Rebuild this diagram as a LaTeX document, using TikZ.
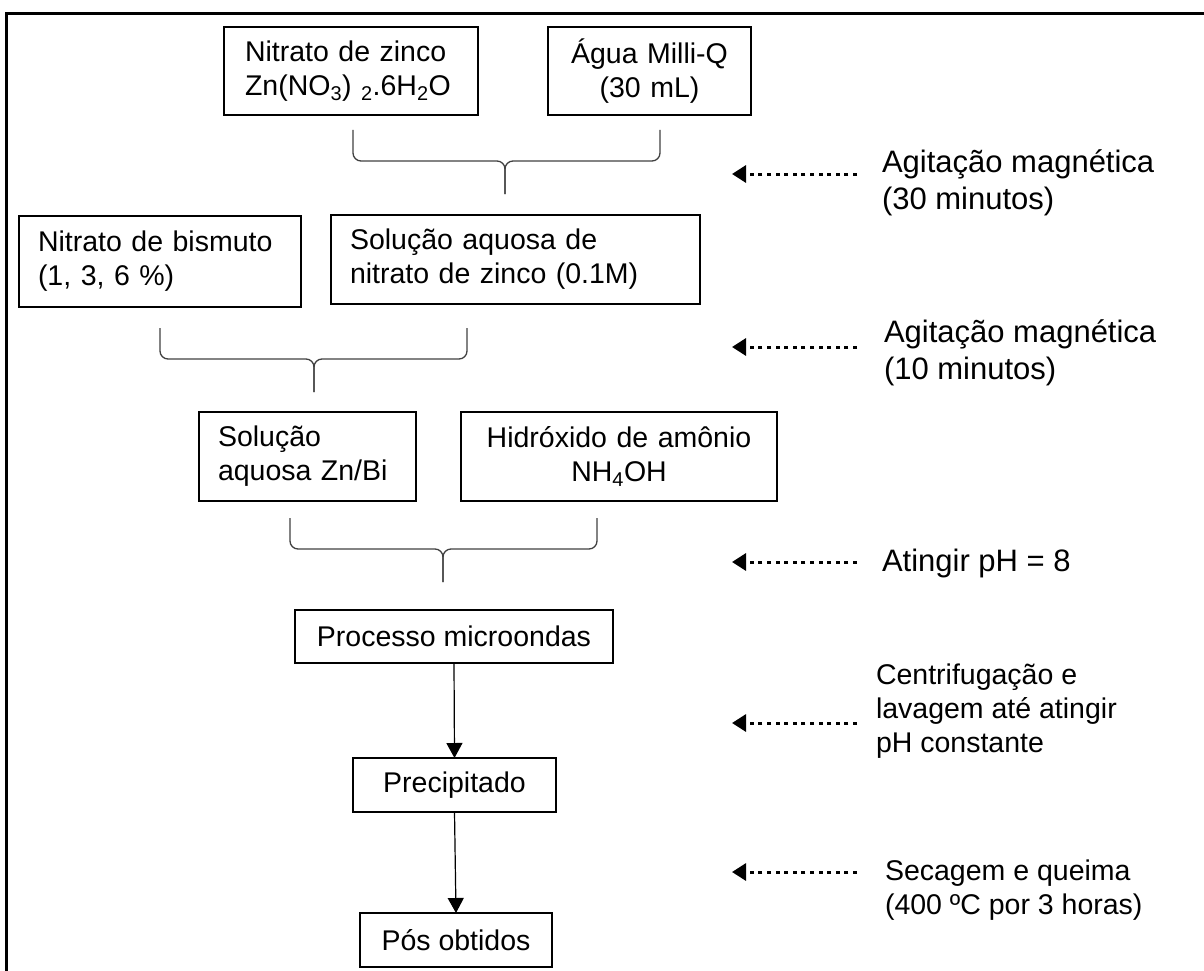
\documentclass[tikz,border=0pt]{standalone}
\usepackage{fontspec}
\setmainfont{Liberation Sans}
\usetikzlibrary{arrows.meta}

\begin{document}
\begin{tikzpicture}[x=1pt, y=-1pt,
    %Option for arrows
    >={Triangle[width=16pt,length=15pt]}, %
    inner sep=0pt, outer sep=0pt,%
    stage/.style={draw, line width=2pt, font=\fontsize{28.5}{34}\selectfont},
    note/.style={anchor=west, align=left, font=\fontsize{31}{37}\selectfont},
    smallnote/.style={note, font=\fontsize{28.5}{34}\selectfont},
    mix/.style={line width=1.3pt, black!75, rounded corners=8pt},
    flow/.style={line width=1.2pt, ->},
    hint/.style={line width=3pt, dash pattern=on 4pt off 4.6pt,
        -{Triangle[width=17pt,length=14pt]}},
]
    \useasboundingbox (0,0) rectangle (1204,971);

    % Frame
    \draw[line width=3pt] (6,971) -- (6,14) -- (1204,14);

    % Reagents
    \node[stage, minimum width=254pt, minimum height=88pt, text width=212pt, align=left]
        (zinco) at (351,71) {Nitrato de zinco\\Zn(NO\textsubscript{3}) \textsubscript{2}.6H\textsubscript{2}O};
    \node[stage, minimum width=203pt, minimum height=88pt, text width=203pt, align=center]
        (agua) at (649.5,71) {Água Milli-Q\\(30 mL)};

    \node[stage, minimum width=282pt, minimum height=91pt, text width=244pt, align=left]
        (bismuto) at (160,261.5) {Nitrato de bismuto\\(1, 3, 6 \%)};
    \node[stage, minimum width=369pt, minimum height=89pt, text width=331pt, align=left]
        (solzn) at (515.5,259.5) {Solução aquosa de\\nitrato de zinco (0.1M)};

    \node[stage, minimum width=217pt, minimum height=89pt, text width=179pt, align=left]
        (znbi) at (307.5,456.5) {Solução\\aquosa Zn/Bi};
    \node[stage, minimum width=316pt, minimum height=89pt, text width=316pt, align=center]
        (hidrox) at (619,456.5) {Hidróxido de amônio\\NH\textsubscript{4}OH};

    % Synthesis
    \node[stage, minimum width=318pt, minimum height=53pt] (processo) at (454,636.5) {Processo microondas};
    \node[stage, minimum width=203pt, minimum height=54pt] (precip) at (454.5,785) {Precipitado};
    \node[stage, minimum width=192pt, minimum height=54pt] (pos) at (456,940) {Pós obtidos};

    \draw[flow] (processo.south) -- (precip.north);
    \draw[flow] (precip.south) -- (pos.north);

    % Mixing braces
    \foreach \xl/\yt/\xm in {353/130/505, 160/328/314, 290/518/443}{
        \draw[mix] (\xl,\yt) -- (\xl,\yt+31) -- (\xm,\yt+31) -- (\xm,\yt+64);
        \draw[mix] (\xl+307,\yt) -- (\xl+307,\yt+31) -- (\xm,\yt+31) -- (\xm,\yt+64);
    }

    % Process conditions
    \node[note] (note1) at (882,183) {Agitação magnética\\(30 minutos)};
    \node[note] (note2) at (884,353) {Agitação magnética\\(10 minutos)};
    \node[note] (note3) at (882,563) {Atingir pH = 8};
    \node[smallnote] (note4) at (876,711.5) {Centrifugação e\\lavagem até atingir\\pH constante};
    \node[smallnote] (note5) at (885,890.5) {Secagem e queima\\(400 ºC por 3 horas)};

    \foreach \y [count=\i] in {174,347,562,723,872}{
        \coordinate (from\i) at (857,\y);
        \coordinate (to\i) at (732,\y);
        \draw[hint] (from\i) -- (to\i);
    }

\end{tikzpicture}
\end{document}
